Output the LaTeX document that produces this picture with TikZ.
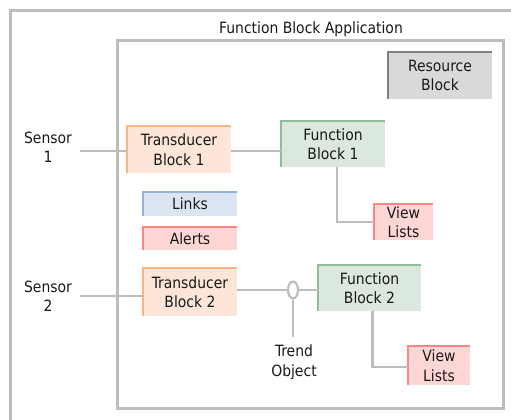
\documentclass[tikz,border=0pt]{standalone}
\usepackage{fontspec}
\setmainfont{DejaVu Sans Condensed}
\usetikzlibrary{shapes.geometric}
\definecolor{framegray}{HTML}{BDBDBD}
\definecolor{wiregray}{HTML}{BDBDBD}
\definecolor{tdfill}{HTML}{FDE6D7}
\definecolor{tdedge}{HTML}{F9B387}
\definecolor{fbfill}{HTML}{DAE8DE}
\definecolor{fbedge}{HTML}{8FBC9E}
\definecolor{lkfill}{HTML}{DBE5F1}
\definecolor{lkedge}{HTML}{93B3DA}
\definecolor{alfill}{HTML}{FFD6D6}
\definecolor{aledge}{HTML}{FF8585}
\definecolor{rsfill}{HTML}{D9D9D9}
\definecolor{rsedge}{HTML}{808080}
\tikzset{
  x=1pt, y=-1pt,
  every node/.style={font=\fontsize{15.5}{19.5}\selectfont, text=black!90},
  blockbox/.style={inner sep=0pt, align=center, draw=none},
  wire/.style={draw=wiregray, line width=2.6pt},
  frame/.style={draw=framegray, line width=3pt},
}
% colored top and left edge of a block
\newcommand{\edgeTL}[2]{\draw[#2, line width=2.4pt] (#1.south west) -- (#1.north west) -- (#1.north east);}
\begin{document}
\begin{tikzpicture}
\useasboundingbox (0,0) rectangle (511,420);
% outer frame (open to the right and bottom)
\draw[frame] (10,420) -- (10,11) -- (511,11);
% inner frame
\draw[frame] (117,41) rectangle (503,408);
\node (title) at (311,29) {Function Block Application};

% blocks
\node[blockbox, fill=rsfill, minimum width=104, minimum height=47] (rb) at (440,75.5) {Resource\\Block};
\edgeTL{rb}{rsedge}
\node[blockbox, fill=tdfill, minimum width=104, minimum height=47] (t1) at (179,149.5) {Transducer\\Block 1};
\edgeTL{t1}{tdedge}
\node[blockbox, fill=fbfill, minimum width=104, minimum height=46] (f1) at (333,144) {Function\\Block 1};
\edgeTL{f1}{fbedge}
\node[blockbox, fill=lkfill, minimum width=94, minimum height=24] (lk) at (190,204) {Links};
\edgeTL{lk}{lkedge}
\node[blockbox, fill=alfill, minimum width=94, minimum height=23] (al) at (190,238.5) {Alerts};
\edgeTL{al}{aledge}
\node[blockbox, fill=alfill, minimum width=59, minimum height=36] (v1) at (403.5,222) {View\\Lists};
\edgeTL{v1}{aledge}
\node[blockbox, fill=tdfill, minimum width=94, minimum height=48] (t2) at (190,292) {Transducer\\Block 2};
\edgeTL{t2}{tdedge}
\node[blockbox, fill=fbfill, minimum width=103, minimum height=46] (f2) at (369.5,288) {Function\\Block 2};
\edgeTL{f2}{fbedge}
\node[blockbox, fill=alfill, minimum width=62, minimum height=39] (v2) at (439,365.5) {View\\Lists};
\edgeTL{v2}{aledge}

% sensors
\node[align=center] (s1) at (48,147) {Sensor\\1};
\node[align=center] (s2) at (48,296) {Sensor\\2};
\coordinate (s1w) at (80,151);
\coordinate (s2w) at (80,296);

% trend object
\node[ellipse, draw=wiregray, line width=2.2pt, minimum width=10, minimum height=17, inner sep=0pt] (tr) at (293,290) {};
\coordinate (trend end) at (293,337);
\node[align=center] (trl) at (294,362) {Trend\\Object};

% connectors
\draw[wire] (s1w) -- (s1w -| t1.west);
\draw[wire] (s2w) -- (s2w -| t2.west);
\draw[wire] (t1.east |- s1w) -- (s1w -| f1.west);
\draw[wire] (t2.east |- tr) -- (tr.west);
\draw[wire] (tr.east) -- (tr -| f2.west);
\draw[wire] (tr.south) -- (trend end);
\draw[wire] ([xshift=4pt]f1.south) |- (v1.west);
\draw[wire] ([xshift=3pt]f2.south) |- ([yshift=-1.5pt]v2.west);
\end{tikzpicture}
\end{document}
